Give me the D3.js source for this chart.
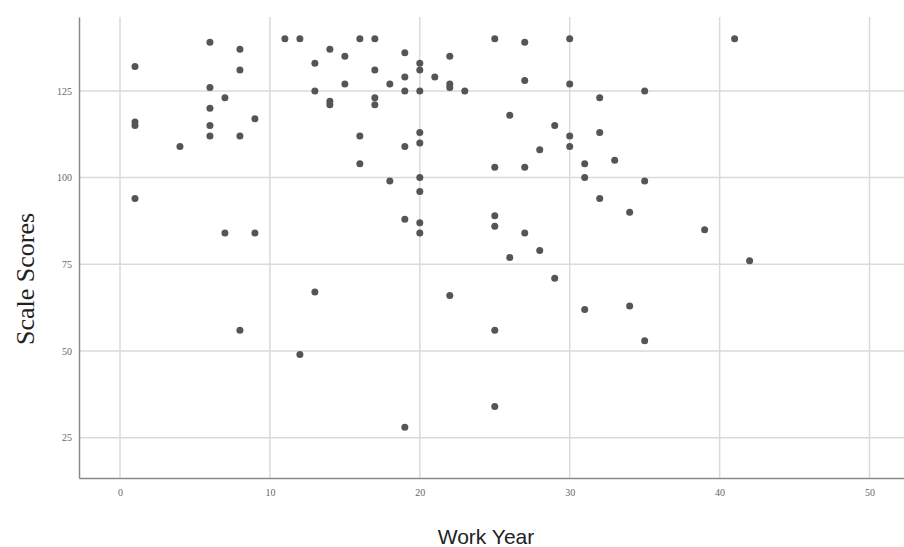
<!DOCTYPE html>
<html>
<head>
<meta charset="utf-8">
<script src="https://cdn.jsdelivr.net/npm/d3@7"></script>
<style>
  body { margin: 0; background: #fff; }
  .tick text { fill: #666; }
</style>
</head>
<body>
<div class="chart"></div>
<script>
// work years and scale scores
var workYear = [1, 1, 1, 1, 4, 6, 6, 6, 6, 6, 7, 7, 8, 8, 8, 8, 9, 9, 11, 12, 12,
  13, 13, 13, 14, 14, 14, 15, 15, 16, 16, 16, 17, 17, 17, 17, 18, 18,
  19, 19, 19, 19, 19, 19, 20, 20, 20, 20, 20, 20, 20, 20, 20, 21,
  22, 22, 22, 22, 23, 25, 25, 25, 25, 25, 25, 26, 26, 27, 27, 27, 27,
  28, 28, 29, 29, 30, 30, 30, 30, 31, 31, 31, 32, 32, 32, 33, 34, 34,
  35, 35, 35, 39, 41, 42];
var scaleScore = [132, 116, 115, 94, 109, 139, 126, 120, 115, 112, 123, 84, 137, 131, 112, 56, 117, 84, 140, 140, 49,
  133, 125, 67, 137, 122, 121, 135, 127, 140, 112, 104, 140, 131, 123, 121, 127, 99,
  136, 129, 125, 109, 88, 28, 133, 131, 125, 113, 110, 100, 96, 87, 84, 129,
  135, 127, 126, 66, 125, 140, 103, 89, 86, 56, 34, 118, 77, 139, 128, 103, 84,
  108, 79, 115, 71, 140, 127, 112, 109, 104, 100, 62, 123, 113, 94, 105, 90, 63,
  125, 99, 53, 85, 140, 76];

var xTicks = [0, 10, 20, 30, 40, 50];
var yTicks = [25, 50, 75, 100, 125];

var width = 904, height = 547;
var plotLeft = 79, plotRight = 904, plotTop = 17, plotBottom = 478;

var x = d3.scaleLinear().domain([-2.735, 52.3]).range([plotLeft, plotRight]);
var y = d3.scaleLinear().domain([13.4, 146.3]).range([plotBottom, plotTop]);

var svg = d3.select(".chart").append("svg")
    .attr("width", width)
    .attr("height", height);

// grid
svg.append("g").selectAll("line")
    .data(yTicks)
    .enter().append("line")
    .attr("x1", plotLeft).attr("x2", plotRight)
    .attr("y1", function(d) { return y(d); })
    .attr("y2", function(d) { return y(d); })
    .attr("stroke", "#dadada")
    .attr("stroke-width", 1.5);

svg.append("g").selectAll("line")
    .data(xTicks)
    .enter().append("line")
    .attr("y1", plotTop).attr("y2", plotBottom)
    .attr("x1", function(d) { return x(d); })
    .attr("x2", function(d) { return x(d); })
    .attr("stroke", "#dadada")
    .attr("stroke-width", 1.5);

// axes
var xAxis = d3.axisBottom(x).tickValues(xTicks).tickSize(0).tickPadding(11);
var yAxis = d3.axisLeft(y).tickValues(yTicks).tickSize(0).tickPadding(7);

var gx = svg.append("g")
    .attr("transform", "translate(0," + plotBottom + ")")
    .call(xAxis);
var gy = svg.append("g")
    .attr("transform", "translate(" + plotLeft + ",0)")
    .call(yAxis);

[gx, gy].forEach(function(g) {
  g.select(".domain").attr("stroke", "#8a8a8a").attr("stroke-width", 1.5);
  g.selectAll(".tick text")
    .style("font-family", "'Liberation Serif', serif")
    .style("font-size", "10px");
});

// points
svg.append("g").selectAll("circle")
    .data(workYear)
    .enter().append("circle")
    .attr("cx", function(d) { return x(d); })
    .attr("cy", function(d, i) { return y(scaleScore[i]); })
    .attr("r", 3.5)
    .attr("fill", "#555");

// axis titles
svg.append("text")
    .attr("x", 486).attr("y", 544)
    .style("text-anchor", "middle")
    .style("font-family", "'Liberation Sans', Arial, sans-serif")
    .style("font-size", "21px")
    .style("fill", "#222")
    .text("Work Year");

svg.append("text")
    .attr("transform", "translate(34,279) rotate(-90)")
    .style("text-anchor", "middle")
    .style("font-family", "'Liberation Serif', 'Times New Roman', serif")
    .style("font-size", "26px")
    .style("fill", "#222")
    .text("Scale Scores");
</script>
</body>
</html>
